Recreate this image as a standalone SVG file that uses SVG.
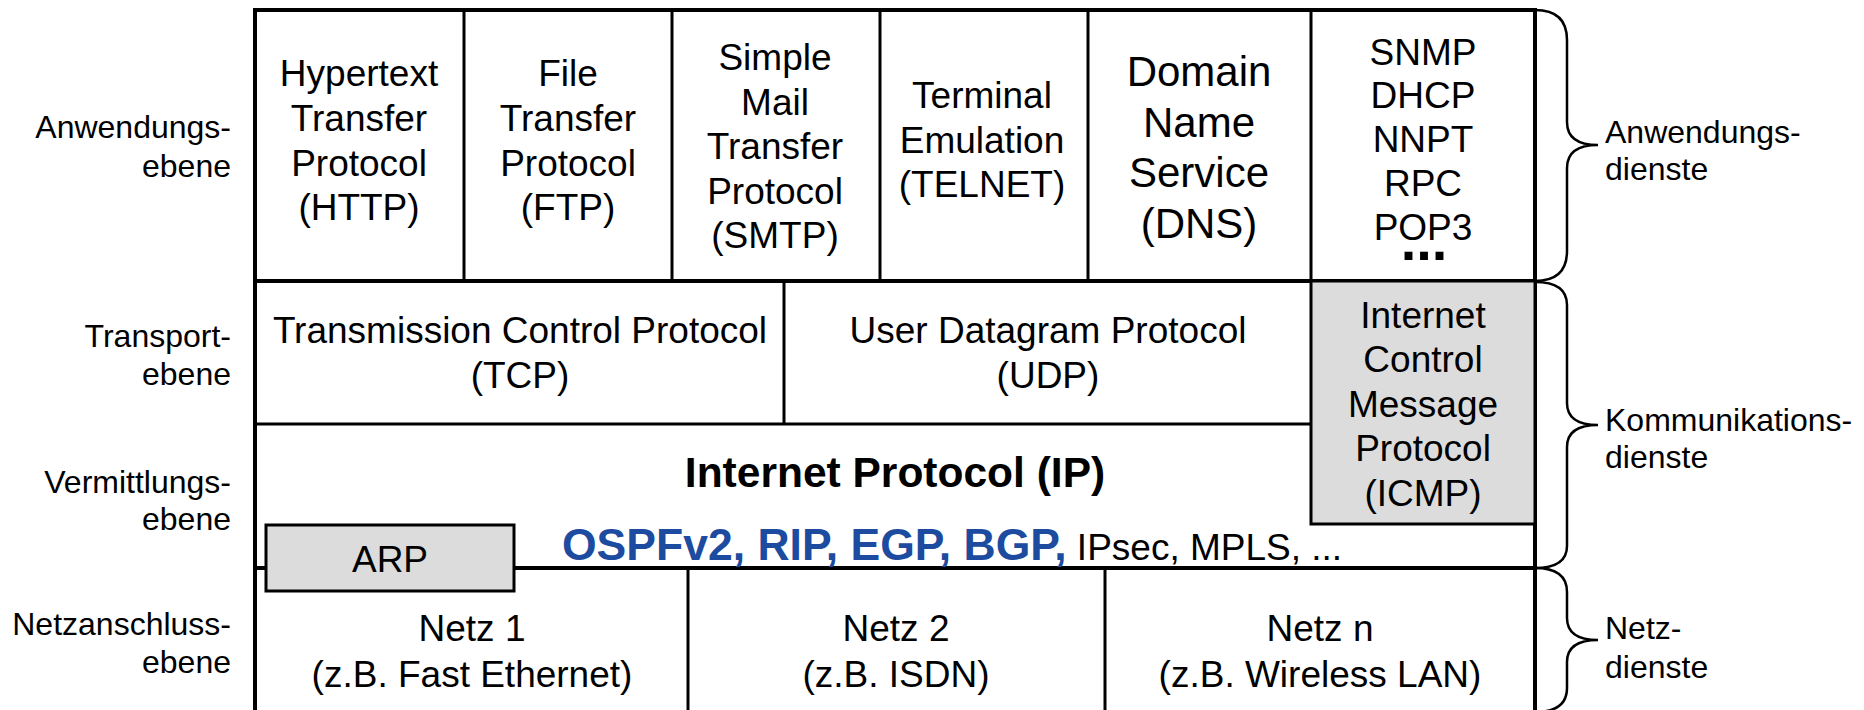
<svg xmlns="http://www.w3.org/2000/svg" width="1864" height="710" viewBox="0 0 1864 710">
<style>
text{font-family:"Liberation Sans",Arial,sans-serif;fill:#000}
.t{font-size:37px;text-anchor:middle}
.lab{font-size:32px;text-anchor:end}
.rl{font-size:32px;text-anchor:start}
.thick{stroke:#000;stroke-width:4;fill:none}
.thin{stroke:#000;stroke-width:3;fill:none}
.gray{fill:#dcdcdc;stroke:#000;stroke-width:3}
.brace{stroke:#000;stroke-width:2.5;fill:none}
</style>
<rect width="1864" height="710" fill="#fff"/>
<g id="left-labels">
<text class="lab" x="231" y="138">Anwendungs-</text><text class="lab" x="231" y="177">ebene</text>
<text class="lab" x="231" y="347">Transport-</text><text class="lab" x="231" y="385">ebene</text>
<text class="lab" x="231" y="493">Vermittlungs-</text><text class="lab" x="231" y="530">ebene</text>
<text class="lab" x="231" y="635">Netzanschluss-</text><text class="lab" x="231" y="673">ebene</text>
</g>
<g id="frame">
<rect x="255" y="10" width="1280" height="702" class="thick"/>
<line x1="255" y1="281" x2="1535" y2="281" class="thick"/>
<line x1="255" y1="424" x2="1311" y2="424" class="thin"/>
<line x1="255" y1="568" x2="1535" y2="568" class="thick"/>
<line x1="464" y1="10" x2="464" y2="281" class="thin"/>
<line x1="672" y1="10" x2="672" y2="281" class="thin"/>
<line x1="880" y1="10" x2="880" y2="281" class="thin"/>
<line x1="1088" y1="10" x2="1088" y2="281" class="thin"/>
<line x1="1311" y1="10" x2="1311" y2="281" class="thin"/>
<line x1="784" y1="281" x2="784" y2="424" class="thin"/>
<line x1="688" y1="568" x2="688" y2="712" class="thin"/>
<line x1="1105" y1="568" x2="1105" y2="712" class="thin"/>
</g>
<g id="http"><text class="t" x="359" y="86">Hypertext</text><text class="t" x="359" y="131">Transfer</text><text class="t" x="359" y="176">Protocol</text><text class="t" x="359" y="220">(HTTP)</text></g>
<g id="ftp"><text class="t" x="568" y="86">File</text><text class="t" x="568" y="131">Transfer</text><text class="t" x="568" y="176">Protocol</text><text class="t" x="568" y="220">(FTP)</text></g>
<g id="smtp"><text class="t" x="775" y="70">Simple</text><text class="t" x="775" y="115">Mail</text><text class="t" x="775" y="159">Transfer</text><text class="t" x="775" y="204">Protocol</text><text class="t" x="775" y="248">(SMTP)</text></g>
<g id="telnet"><text class="t" x="982" y="108">Terminal</text><text class="t" x="982" y="153">Emulation</text><text class="t" x="982" y="197">(TELNET)</text></g>
<g id="dns"><text class="t" style="font-size:42px" x="1199" y="86">Domain</text><text class="t" style="font-size:42px" x="1199" y="137">Name</text><text class="t" style="font-size:42px" x="1199" y="187">Service</text><text class="t" style="font-size:42px" x="1199" y="238">(DNS)</text></g>
<g id="misc-apps"><text class="t" x="1423" y="65">SNMP</text><text class="t" x="1423" y="108">DHCP</text><text class="t" x="1423" y="152">NNPT</text><text class="t" x="1423" y="196">RPC</text><text class="t" x="1423" y="240">POP3</text><text class="t" style="font-size:56px;font-weight:bold" x="1424" y="260">...</text></g>
<g id="tcp"><text class="t" x="520" y="343">Transmission Control Protocol</text><text class="t" x="520" y="388">(TCP)</text></g>
<g id="udp"><text class="t" x="1048" y="343">User Datagram Protocol</text><text class="t" x="1048" y="388">(UDP)</text></g>
<g id="icmp"><rect x="1311" y="281" width="224" height="243" class="gray"/>
<text class="t" x="1423" y="328">Internet</text><text class="t" x="1423" y="372">Control</text><text class="t" x="1423" y="417">Message</text><text class="t" x="1423" y="461">Protocol</text><text class="t" x="1423" y="506">(ICMP)</text></g>
<g id="ip"><text class="t" style="font-size:42.5px;font-weight:bold" x="895" y="487">Internet Protocol (IP)</text>
<text x="562" y="560" style="font-size:37px"><tspan style="font-size:44.5px;font-weight:bold;fill:#1C4BA0">OSPFv2, RIP, EGP, BGP,</tspan> IPsec, MPLS, ...</text></g>
<g id="arp"><rect x="266" y="525" width="248" height="66" class="gray"/><text class="t" x="390" y="572">ARP</text></g>
<g id="netz1"><text class="t" x="472" y="641">Netz 1</text><text class="t" x="472" y="687">(z.B. Fast Ethernet)</text></g>
<g id="netz2"><text class="t" x="896" y="641">Netz 2</text><text class="t" x="896" y="687">(z.B. ISDN)</text></g>
<g id="netzn"><text class="t" x="1320" y="641">Netz n</text><text class="t" x="1320" y="687">(z.B. Wireless LAN)</text></g>
<g id="connectors">
<path class="brace" d="M1535,10 Q1567,10 1567,40 V122 Q1567,145 1598,145 Q1567,145 1567,168 V251 Q1567,281 1535,281"/>
<path class="brace" d="M1535,282 Q1567,282 1567,305 V403 Q1567,425 1598,425 Q1567,425 1567,447 V546 Q1567,568 1535,568"/>
<path class="brace" d="M1535,568 Q1567,568 1567,592 V618 Q1567,640 1598,640 Q1567,640 1567,662 V688 Q1567,712 1535,712"/>
</g>
<g id="right-labels">
<text class="rl" x="1605" y="143">Anwendungs-</text><text class="rl" x="1605" y="180">dienste</text>
<text class="rl" x="1605" y="431">Kommunikations-</text><text class="rl" x="1605" y="468">dienste</text>
<text class="rl" x="1605" y="639">Netz-</text><text class="rl" x="1605" y="678">dienste</text>
</g>
</svg>
